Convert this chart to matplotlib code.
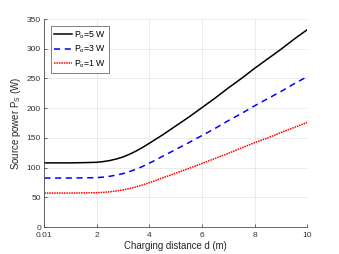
import numpy as np
import matplotlib
matplotlib.use('Agg')
import matplotlib.pyplot as plt

plt.rcParams['font.family'] = ['Liberation Sans', 'DejaVu Sans']
plt.rcParams['mathtext.fontset'] = 'custom'
plt.rcParams['mathtext.rm'] = 'Liberation Sans'
plt.rcParams['mathtext.it'] = 'Liberation Sans'

# charging distance d (m)
d = [0.01, 0.5, 1.0, 1.5, 2.0, 2.25, 2.5, 2.75, 3.0, 3.25, 3.5, 3.75, 4.0, 4.25, 4.5, 4.75, 5.0,
     5.5, 6.0, 6.5, 7.0, 7.5, 8.0, 8.5, 9.0, 9.5, 10.0]
# source power for each output power (W)
p5 = [108, 108, 108, 108.4, 109, 110.2, 112, 114.6, 118, 122.6, 128, 134.2, 141, 148, 155, 162.5, 170,
      185, 201, 217, 234, 250, 267, 283, 299, 316, 332]
p3 = [82.5, 82.5, 82.5, 82.8, 83.2, 84.1, 85.5, 87.5, 90, 93.4, 97.5, 102.2, 107.5, 113, 119, 124.7, 130.5,
      142, 154, 166, 179, 191, 204, 216, 228, 241, 253]
p1 = [57.2, 57.2, 57.2, 57.5, 57.8, 58.4, 59.4, 60.8, 62.5, 64.9, 67.8, 71, 74.7, 78.6, 82.7, 86.6, 90.6,
      98.6, 107, 115.5, 124, 133, 142, 150, 159, 167.5, 176]

xticks = [0.01, 2, 4, 6, 8, 10]
xtick_labels = ['0.01', '2', '4', '6', '8', '10']
yticks = [0, 50, 100, 150, 200, 250, 300, 350]

fig = plt.figure(figsize=(3.39, 2.54), dpi=100)
ax = fig.add_axes([0.131, 0.106, 0.775, 0.819])

ax.plot(d, p5, color='black', lw=1.1, label=r'P$_{\rm o}$=5 W')
ax.plot(d, p3, color='blue', lw=1.1, ls=(0, (4, 3)), label=r'P$_{\rm o}$=3 W')
ax.plot(d, p1, color='red', lw=1.1, ls=(0, (1, 0.6)), label=r'P$_{\rm o}$=1 W')

ax.set_xlim(0.01, 10)
ax.set_ylim(0, 350)
ax.set_xticks(xticks)
ax.set_xticklabels(xtick_labels)
ax.set_yticks(yticks)
ax.grid(True, color='#e6e6e6', lw=0.6)
ax.set_axisbelow(True)

for s in ['top', 'right']:
    ax.spines[s].set_visible(False)
for s in ['left', 'bottom']:
    ax.spines[s].set_color('#4d4d4d')
    ax.spines[s].set_linewidth(0.6)
ax.tick_params(direction='in', length=2.5, width=0.6, colors='#4d4d4d', labelcolor='#333333',
               labelsize=6)
ax.tick_params(axis='x', pad=3.2)
ax.tick_params(axis='y', pad=2.5)

ax.set_xlabel('Charging distance d (m)', fontsize=6.9, color='#262626', labelpad=1.5)
ax.set_ylabel(r'Source power P$_{\rm S}$ (W)', fontsize=6.9, color='#262626', labelpad=3)

leg = ax.legend(loc='upper left', bbox_to_anchor=(0.025, 0.965), fontsize=6.3, handlelength=2.0,
                handletextpad=0.3, borderpad=0.35, labelspacing=0.35, borderaxespad=0,
                fancybox=False, framealpha=1)
leg.get_frame().set_edgecolor('#4d4d4d')
leg.get_frame().set_linewidth(0.5)

fig.savefig('out.png', dpi=100)
